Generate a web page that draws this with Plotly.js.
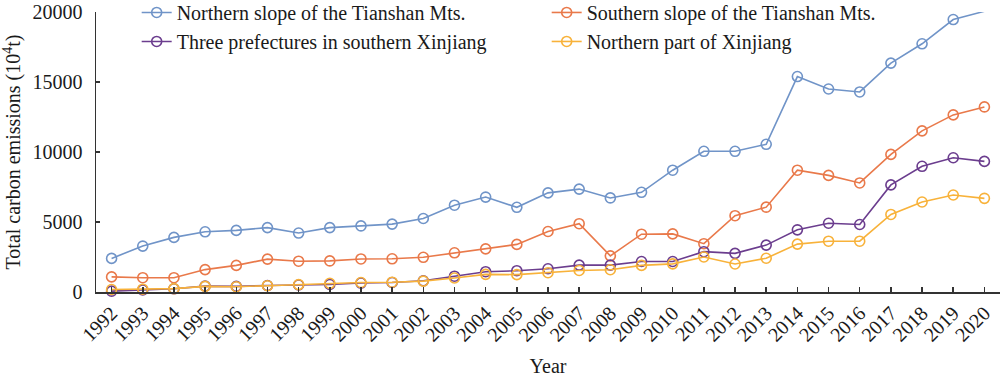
<!DOCTYPE html>
<html>
<head>
<meta charset="utf-8">
<script src="https://cdn.plot.ly/plotly-3.0.1.min.js"></script>
<style>html,body{margin:0;padding:0;background:#fff;}#chart{width:1000px;height:377px;}</style>
</head>
<body>
<div id="chart"></div>
<script>
const years = [1992,1993,1994,1995,1996,1997,1998,1999,2000,2001,2002,2003,2004,2005,2006,2007,2008,2009,2010,2011,2012,2013,2014,2015,2016,2017,2018,2019,2020];
const northernSlope = [2400,3280,3900,4300,4400,4600,4210,4600,4720,4850,5250,6200,6780,6050,7080,7350,6720,7120,8700,10050,10050,10550,15390,14500,14290,16350,17730,19460,20050];
const southernSlope = [1080,1020,1020,1600,1900,2350,2200,2220,2360,2370,2480,2800,3080,3400,4320,4880,2580,4130,4150,3450,5450,6060,8700,8330,7790,9830,11510,12650,13220];
const threePrefectures = [60,150,230,420,400,460,500,540,640,680,800,1130,1450,1520,1660,1920,1920,2180,2180,2880,2760,3350,4440,4910,4820,7650,8980,9590,9330];
const northernPart = [180,200,240,400,380,450,530,620,680,700,780,1000,1260,1240,1380,1540,1590,1900,2010,2500,2000,2410,3420,3630,3630,5540,6430,6930,6690];
const yTickVals = [0,5000,10000,15000,20000];
const yTickText = ["0","5000","10000","15000","20000"];
const seriesNames = ["Northern slope of the Tianshan Mts.","Southern slope of the Tianshan Mts.","Three prefectures in southern Xinjiang","Northern part of Xinjiang"];
const seriesColors = ["#7094c8","#e9794a","#6b3d8e","#f8b23a"];
const seriesData = [northernSlope, southernSlope, threePrefectures, northernPart];

const font = "Liberation Serif, Times New Roman, serif";
const traces = seriesData.map((d, i) => ({
  x: years, y: d, name: seriesNames[i], type: 'scatter', mode: 'lines+markers',
  line: {color: seriesColors[i], width: 1.6},
  marker: {symbol: 'circle-open', size: 10, color: seriesColors[i], line: {width: 1.6, color: seriesColors[i]}},
  cliponaxis: false
}));

const layout = {
  width: 1000, height: 377,
  margin: {l: 96, r: 0, t: 12, b: 85, autoexpand: false},
  paper_bgcolor: '#fff', plot_bgcolor: '#fff',
  font: {family: font, size: 20, color: '#1a1a1a'},
  showlegend: true,
  legend: {
    orientation: 'h', x: 0.045, xanchor: 'left', y: 1.068, yanchor: 'top',
    font: {family: font, size: 20, color: '#1a1a1a'},
    bgcolor: 'rgba(0,0,0,0)', entrywidth: 365, entrywidthmode: 'pixels',
    itemsizing: 'trace'
  },
  xaxis: {
    range: [1991.5, 2020.5], tickmode: 'array', tickvals: years, ticktext: years.map(String),
    tickangle: -45, ticks: 'inside', ticklen: 5, tickwidth: 1.5, tickcolor: '#333',
    showline: true, linecolor: '#333', linewidth: 1.5, showgrid: false, zeroline: false,
    tickfont: {family: font, size: 20, color: '#1a1a1a'}, ticklabeloverflow: 'allow',
    title: {text: 'Year', font: {family: font, size: 20, color: '#1a1a1a'}, standoff: 14}
  },
  yaxis: {
    range: [0, 20000.5], tickmode: 'array', tickvals: yTickVals, ticktext: yTickText,
    ticks: 'inside', ticklen: 4, tickwidth: 1.5, tickcolor: '#333', ticklabelstandoff: 8,
    ticklabeloverflow: 'allow',
    showline: true, linecolor: '#333', linewidth: 1.5, showgrid: false, zeroline: false,
    tickfont: {family: font, size: 20, color: '#1a1a1a'},
    title: {text: 'Total carbon emissions (10<sup>4</sup>t)', font: {family: font, size: 20, color: '#1a1a1a'}, standoff: 10}
  }
};
Plotly.newPlot('chart', traces, layout, {displayModeBar: false, staticPlot: true});
</script>
</body>
</html>
